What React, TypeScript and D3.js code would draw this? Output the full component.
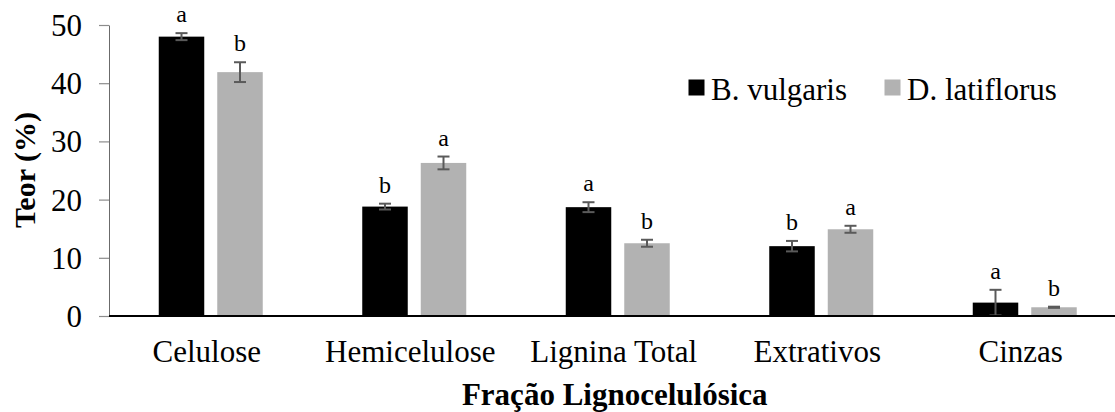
import { useEffect, useRef } from "react";
import * as d3 from "d3";

const width = 1115;
const height = 412;

const marginLeft = 109;
const marginTop = 25;
const chartBottomY = 316;
const bandStep = 203.5;

const categories = ["Celulose", "Hemicelulose", "Lignina Total", "Extrativos", "Cinzas"];
const seriesNames = ["B. vulgaris", "D. latiflorus"];
const seriesColors = ["#000000", "#b2b2b2"];

// mean values (%)
const vulgarisValues = [48.0, 18.8, 18.7, 12.0, 2.3];
const latiflorusValues = [41.9, 26.3, 12.5, 14.9, 1.5];
// error bars (+/-)
const vulgarisErrors = [0.6, 0.5, 0.85, 0.9, 2.2];
const latiflorusErrors = [1.7, 1.1, 0.6, 0.6, 0.1];
// significance letters
const vulgarisLetters = ["a", "b", "a", "b", "a"];
const latiflorusLetters = ["b", "a", "b", "a", "b"];

const yTicks = [0, 10, 20, 30, 40, 50];

const font = "Liberation Serif";

export default function App() {
  const yAxisRef = useRef<SVGGElement>(null);

  const xScale = d3
    .scaleBand()
    .domain(categories)
    .range([marginLeft, marginLeft + bandStep * categories.length])
    .padding(0);

  const innerScale = d3
    .scaleBand()
    .domain(seriesNames)
    .range([0, 104])
    .paddingInner(13 / 58.5)
    .paddingOuter(0);

  const innerOffset = (xScale.bandwidth() - 104) / 2;

  const yScale = d3.scaleLinear().domain([0, 50]).range([chartBottomY, marginTop]);

  const series = [
    { name: seriesNames[0], color: seriesColors[0], values: vulgarisValues, errors: vulgarisErrors, letters: vulgarisLetters },
    { name: seriesNames[1], color: seriesColors[1], values: latiflorusValues, errors: latiflorusErrors, letters: latiflorusLetters },
  ];

  useEffect(() => {
    const yAxis = d3.axisLeft(yScale).tickValues(yTicks).tickSize(10).tickPadding(17).tickSizeOuter(0);
    const g = d3.select(yAxisRef.current).call(yAxis);
    g.attr("font-family", null);
    g.select(".domain").attr("stroke", "#6b6b6b").attr("stroke-width", 1);
    g.selectAll(".tick line").attr("stroke", "#8c8c8c").attr("stroke-width", 1.2);
    g.selectAll(".tick text")
      .attr("font-size", null)
      .style("font-size", "31px")
      .style("font-family", font)
      .attr("fill", "#000")
      .attr("dy", "0.34em");
  }, []);

  const plotCenter = (marginLeft + marginLeft + bandStep * categories.length) / 2;
  const barCenter = (name: string, c: string) =>
    (xScale(c) as number) + innerOffset + (innerScale(name) as number) + innerScale.bandwidth() / 2;

  const textStyle = (size: number, bold = false) => ({
    fontFamily: font,
    fontSize: `${size}px`,
    fontWeight: bold ? 700 : 400,
  });

  return (
    <svg
      width={width}
      height={height}
      viewBox={`0 0 ${width} ${height}`}
      style={{ position: "absolute", left: 0, top: 0, background: "#fff" }}
    >
      <rect x={0} y={0} width={width} height={height} fill="#fff" />

      {/* bars */}
      <g className="bars">
        {series.map((s) =>
          categories.map((c, i) => (
            <rect
              key={s.name + c}
              x={barCenter(s.name, c) - innerScale.bandwidth() / 2}
              y={yScale(s.values[i])}
              width={innerScale.bandwidth()}
              height={chartBottomY - yScale(s.values[i])}
              fill={s.color}
            />
          ))
        )}
      </g>

      {/* error bars */}
      <g className="errors" stroke="#5a5a5a" strokeWidth={2}>
        {series.map((s) =>
          categories.map((c, i) => {
            const cx = barCenter(s.name, c);
            const top = yScale(s.values[i] + s.errors[i]);
            const bottom = yScale(Math.max(0, s.values[i] - s.errors[i]));
            return (
              <g key={s.name + c}>
                <line x1={cx} x2={cx} y1={top} y2={bottom} />
                <line x1={cx - 6} x2={cx + 6} y1={top} y2={top} />
                <line x1={cx - 6} x2={cx + 6} y1={bottom} y2={bottom} />
              </g>
            );
          })
        )}
      </g>

      {/* significance letters */}
      <g className="letters">
        {series.map((s) =>
          categories.map((c, i) => (
            <text
              key={s.name + c}
              x={barCenter(s.name, c)}
              y={yScale(s.values[i] + s.errors[i]) - 11}
              textAnchor="middle"
              style={textStyle(24)}
            >
              {s.letters[i]}
            </text>
          ))
        )}
      </g>

      {/* axes */}
      <g ref={yAxisRef} transform={`translate(${marginLeft},0)`}></g>
      <line x1={marginLeft} x2={width} y1={chartBottomY} y2={chartBottomY} stroke="#000" strokeWidth={2.2} />

      {/* category labels */}
      {categories.map((c) => (
        <text
          key={c}
          x={(xScale(c) as number) + xScale.bandwidth() / 2 - 4}
          y={362}
          textAnchor="middle"
          style={textStyle(31)}
        >
          {c}
        </text>
      ))}

      {/* legend */}
      <g className="legend">
        <rect x={688.5} y={79.5} width={16} height={16} fill={seriesColors[0]} />
        <text x={711} y={100} style={textStyle(31)}>{seriesNames[0]}</text>
        <rect x={884.5} y={79.5} width={16} height={16} fill={seriesColors[1]} />
        <text x={907} y={100} style={textStyle(31)}>{seriesNames[1]}</text>
      </g>

      {/* X-axis label */}
      <text x={plotCenter - 3} y={405} textAnchor="middle" style={textStyle(31, true)}>
        Fração Lignocelulósica
      </text>
      {/* Y-axis label */}
      <text transform={`translate(35,170) rotate(-90)`} textAnchor="middle" style={textStyle(30, true)}>
        Teor (%)
      </text>
    </svg>
  );
}
